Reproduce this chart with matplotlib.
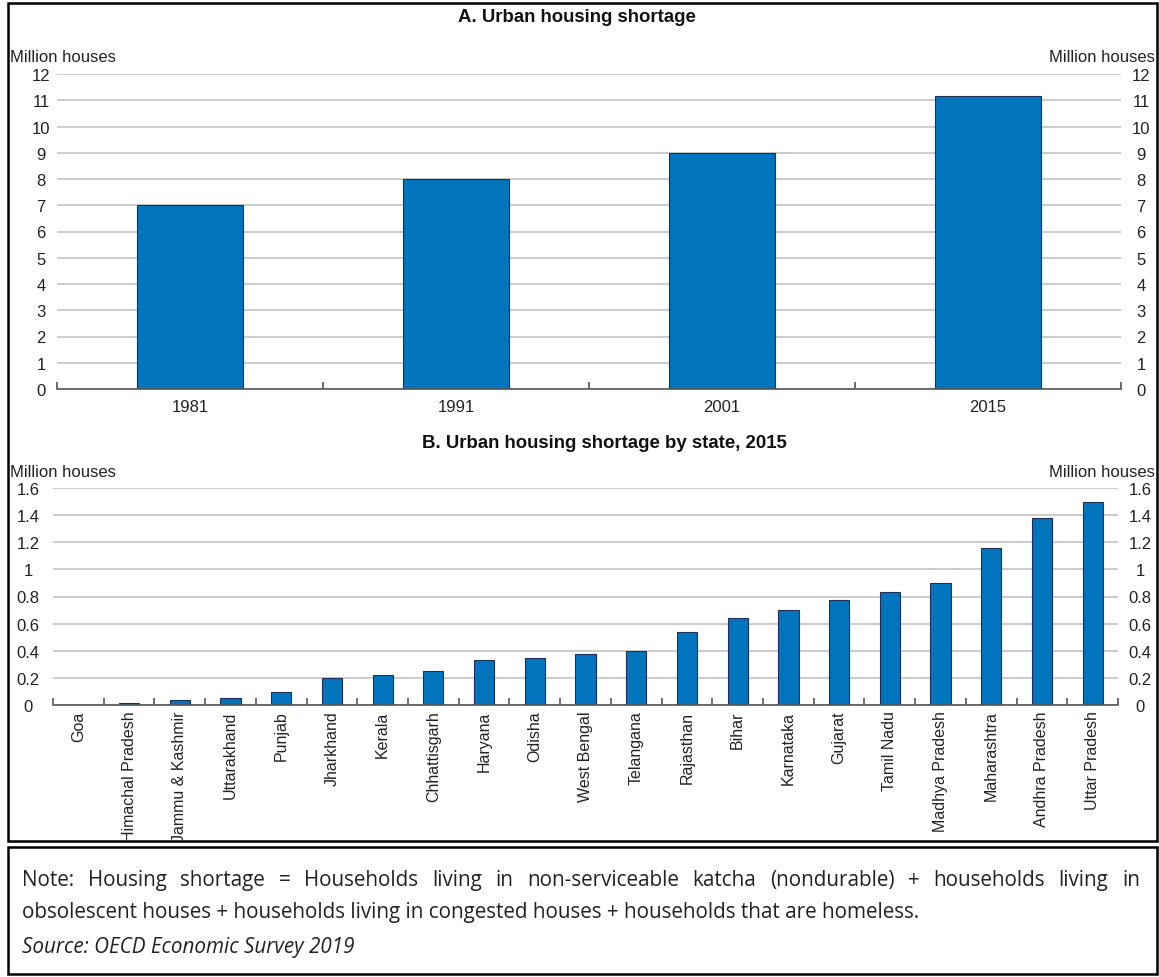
import numpy as np
import matplotlib
matplotlib.use("Agg")
import matplotlib.pyplot as plt
from matplotlib.patches import Rectangle
from matplotlib.transforms import Bbox, TransformedBbox

# data
years = ["1981", "1991", "2001", "2015"]
shortage = [7.0, 8.0, 9.0, 11.15]

states = ["Goa", "Himachal Pradesh", "Jammu & Kashmir", "Uttarakhand", "Punjab",
          "Jharkhand", "Kerala", "Chhattisgarh", "Haryana", "Odisha", "West Bengal",
          "Telangana", "Rajasthan", "Bihar", "Karnataka", "Gujarat", "Tamil Nadu",
          "Madhya Pradesh", "Maharashtra", "Andhra Pradesh", "Uttar Pradesh"]
state_shortage = [0.003, 0.012, 0.037, 0.05, 0.096, 0.2, 0.22, 0.254, 0.33, 0.35,
                  0.374, 0.40, 0.54, 0.645, 0.70, 0.774, 0.83, 0.90, 1.155, 1.38, 1.50]

note_line1 = ("Note: Housing shortage = Households living in non-serviceable katcha "
              "(nondurable) + households living in")
note_line2 = ("obsolescent houses + households living in congested houses + "
              "households that are homeless.")
source_txt = "Source: OECD Economic Survey 2019"

W, H = 1159, 978
plt.rcParams["font.family"] = ["Liberation Sans", "DejaVu Sans"]
BLUE = "#0075BE"
TXT = "#222222"
FS = 12

fig = plt.figure(figsize=(W / 100, H / 100), dpi=100)


def fx(px):
    return px / W


def fy(py):
    return 1 - py / H


# clip region = inside of the chart frame
clipbox = TransformedBbox(Bbox([[fx(9), fy(841)], [fx(1156), fy(5)]]), fig.transFigure)


def style_axis(ax, ymax, step, fmt, lpad, rpad):
    ax.set_ylim(0, ymax)
    ticks = np.arange(0, ymax + step / 2, step)
    labels = [fmt(t) for t in ticks]
    ax.set_yticks(ticks)
    ax.set_yticklabels(labels)
    ax.yaxis.grid(True, color="#c8c8c8", linewidth=1.3)
    ax.set_axisbelow(True)
    for s in ["top", "left", "right"]:
        ax.spines[s].set_visible(False)
    ax.spines["bottom"].set_color("#555555")
    ax.spines["bottom"].set_linewidth(1.2)
    ax.tick_params(axis="y", left=False, right=False, labelsize=FS, colors=TXT, pad=lpad)
    ax.tick_params(axis="x", which="major", length=0, labelsize=FS, colors=TXT)
    ax.tick_params(axis="x", which="minor", direction="in", length=5, width=1.2,
                   color="#555555")
    for lab in ax.get_yticklabels():
        lab.set_horizontalalignment("center")
    sec = ax.secondary_yaxis("right")
    sec.set_yticks(ticks)
    sec.set_yticklabels(labels)
    sec.spines["right"].set_visible(False)
    sec.tick_params(axis="y", length=0, labelsize=FS, colors=TXT, pad=rpad)
    for lab in sec.get_yticklabels():
        lab.set_horizontalalignment("center")
        lab.set_clip_box(clipbox)
        lab.set_clip_on(True)


# panel A
axA = fig.add_axes([fx(57), fy(390), fx(1121) - fx(57), fy(75) - fy(390)])
xa = np.arange(len(years))
axA.bar(xa, shortage, width=0.4, color=BLUE, edgecolor="#1f2f5a", linewidth=0.8)
axA.set_xlim(-0.5, len(years) - 0.5)
axA.set_xticks(xa)
axA.set_xticklabels(years)
axA.set_xticks(np.arange(-0.5, len(years)), minor=True)
style_axis(axA, 12, 1, lambda t: "%d" % t, 8, 14.5)
axA.tick_params(axis="x", pad=7)

# panel B
axB = fig.add_axes([fx(53), fy(706), fx(1118) - fx(53), fy(489) - fy(706)])
xb = np.arange(len(states))
axB.bar(xb, state_shortage, width=0.4, color=BLUE, edgecolor="#1f2f5a", linewidth=0.8)
axB.set_xlim(-0.5, len(states) - 0.5)
axB.set_xticks(xb)
axB.set_xticklabels(states, rotation=90, va="top")
axB.set_xticks(np.arange(-0.5, len(states)), minor=True)
style_axis(axB, 1.6, 0.2, lambda t: ("%g" % round(t, 1)), 14.5, 16)
axB.tick_params(axis="x", which="major", pad=4, labelsize=11.5)
for lab in axB.get_xticklabels():
    lab.set_clip_box(clipbox)
    lab.set_clip_on(True)

# titles and unit labels
fig.text(fx(577), fy(17), "A. Urban housing shortage", ha="center", va="center",
         fontsize=13.4, fontweight="bold", color="#111111")
fig.text(fx(604), fy(444), "B. Urban housing shortage by state, 2015", ha="center",
         va="center", fontsize=13.4, fontweight="bold", color="#111111")
for yy in (57, 473):
    fig.text(fx(10), fy(yy), "Million houses", ha="left", va="center", fontsize=FS, color=TXT)
    fig.text(fx(1155), fy(yy), "Million houses", ha="right", va="center", fontsize=FS, color=TXT)

# borders
fig.patches.append(Rectangle((fx(8), fy(842)), fx(1157) - fx(8), fy(4) - fy(842),
                             transform=fig.transFigure, fill=False, edgecolor="black",
                             linewidth=1.8, zorder=10))
fig.patches.append(Rectangle((fx(8), fy(975)), fx(1157) - fx(8), fy(848) - fy(975),
                             transform=fig.transFigure, fill=False, edgecolor="black",
                             linewidth=1.8, zorder=10))

# note text (first line justified)
NFAM = ["Open Sans", "DejaVu Sans"]
renderer = fig.canvas.get_renderer()
probe = fig.text(0, 0, note_line2, fontsize=12, family=NFAM)
w2 = probe.get_window_extent(renderer).width
probe.remove()
nfs = 12 * (915 - 22) / w2

fig.text(fx(22), fy(913), note_line2, fontsize=nfs, family=NFAM, color="#222222",
         va="center", ha="left")
fig.text(fx(22), fy(948), source_txt, fontsize=nfs, family=NFAM, style="italic",
         color="#222222", va="center", ha="left")

words = note_line1.split(" ")
widths = []
for wd in words:
    t = fig.text(0, 0, wd, fontsize=nfs, family=NFAM)
    widths.append(t.get_window_extent(renderer).width)
    t.remove()
gap = ((1140 - 22) - sum(widths)) / (len(words) - 1)
xpos = 22
for wd, ww in zip(words, widths):
    fig.text(fx(xpos), fy(881), wd, fontsize=nfs, family=NFAM, color="#222222",
             va="center", ha="left")
    xpos += ww + gap

fig.savefig("out.png", dpi=100)
